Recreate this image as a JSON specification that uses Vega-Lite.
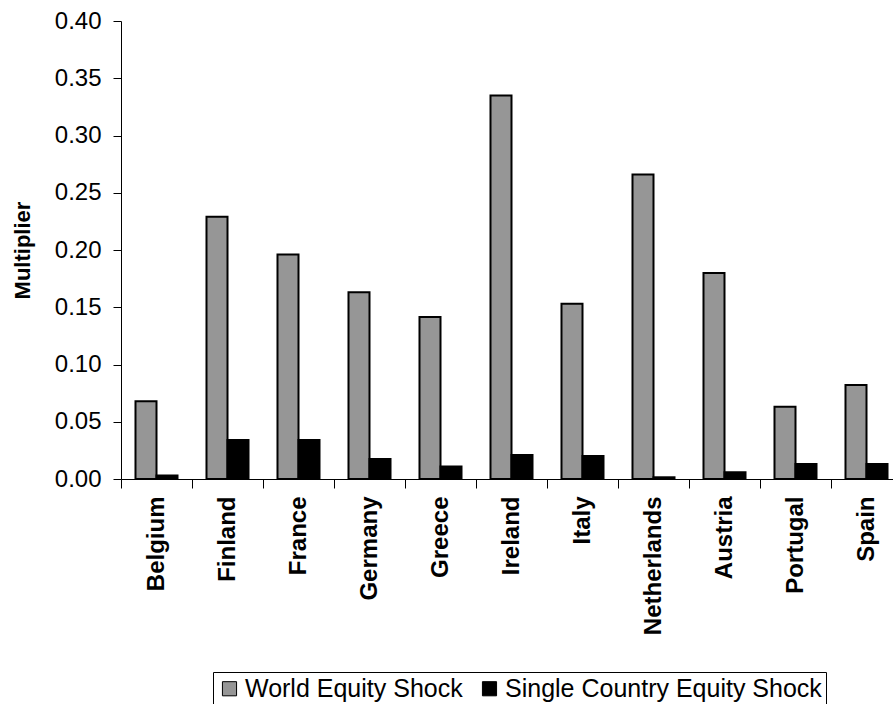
{
  "$schema": "https://vega.github.io/schema/vega-lite/v6.json",
  "width": 772,
  "height": 458,
  "autosize": {"type": "none"},
  "padding": {"left": 121, "top": 21, "right": 0, "bottom": 225},
  "background": "white",
  "config": {
    "view": {"stroke": null},
    "font": "Liberation Sans",
    "axis": {"domainColor": "black", "tickColor": "black", "labelColor": "black", "titleColor": "black", "grid": false, "domainWidth": 1, "tickWidth": 1}
  },
  "data": {
    "values": [
      {"country": "Belgium", "series": "World Equity Shock", "value": 0.068},
      {"country": "Belgium", "series": "Single Country Equity Shock", "value": 0.003},
      {"country": "Finland", "series": "World Equity Shock", "value": 0.229},
      {"country": "Finland", "series": "Single Country Equity Shock", "value": 0.034},
      {"country": "France", "series": "World Equity Shock", "value": 0.196},
      {"country": "France", "series": "Single Country Equity Shock", "value": 0.034},
      {"country": "Germany", "series": "World Equity Shock", "value": 0.163},
      {"country": "Germany", "series": "Single Country Equity Shock", "value": 0.0175},
      {"country": "Greece", "series": "World Equity Shock", "value": 0.1415},
      {"country": "Greece", "series": "Single Country Equity Shock", "value": 0.011},
      {"country": "Ireland", "series": "World Equity Shock", "value": 0.335},
      {"country": "Ireland", "series": "Single Country Equity Shock", "value": 0.021},
      {"country": "Italy", "series": "World Equity Shock", "value": 0.153},
      {"country": "Italy", "series": "Single Country Equity Shock", "value": 0.02},
      {"country": "Netherlands", "series": "World Equity Shock", "value": 0.266},
      {"country": "Netherlands", "series": "Single Country Equity Shock", "value": 0.0015},
      {"country": "Austria", "series": "World Equity Shock", "value": 0.18},
      {"country": "Austria", "series": "Single Country Equity Shock", "value": 0.006},
      {"country": "Portugal", "series": "World Equity Shock", "value": 0.063},
      {"country": "Portugal", "series": "Single Country Equity Shock", "value": 0.013},
      {"country": "Spain", "series": "World Equity Shock", "value": 0.082},
      {"country": "Spain", "series": "Single Country Equity Shock", "value": 0.013}
    ]
  },
  "mark": {"type": "bar", "stroke": "black", "strokeWidth": 2},
  "encoding": {
    "x": {
      "field": "country",
      "type": "nominal",
      "sort": null,
      "scale": {"range": [0, 781], "paddingInner": 0, "paddingOuter": 0},
      "axis": {
        "title": null,
        "labelAngle": -90,
        "labelFontSize": 24,
        "labelFontWeight": "bold",
        "tickBand": "extent",
        "tickSize": 9,
        "labelPadding": 8
      }
    },
    "xOffset": {
      "field": "series",
      "type": "nominal",
      "sort": ["World Equity Shock", "Single Country Equity Shock"],
      "scale": {"paddingInner": 0, "paddingOuter": 0.69}
    },
    "y": {
      "field": "value",
      "type": "quantitative",
      "scale": {"domain": [0, 0.4]},
      "axis": {
        "title": "Multiplier",
        "values": [0, 0.05, 0.1, 0.15, 0.2, 0.25, 0.3, 0.35, 0.4],
        "format": ".2f",
        "labelFontSize": 24,
        "tickSize": 8,
        "labelPadding": 12,
        "titleFontSize": 22,
        "titleFontWeight": "bold",
        "titlePadding": 20
      }
    },
    "color": {
      "field": "series",
      "type": "nominal",
      "scale": {"domain": ["World Equity Shock", "Single Country Equity Shock"], "range": ["#969696", "#000000"]},
      "legend": {
        "title": null,
        "orient": "none",
        "legendX": 92,
        "legendY": 651,
        "direction": "horizontal",
        "strokeColor": "black",
        "fillColor": "white",
        "padding": 4,
        "labelFontSize": 25,
        "labelColor": "black",
        "labelLimit": 600,
        "symbolType": "square",
        "symbolSize": 200,
        "symbolStrokeColor": "black",
        "symbolStrokeWidth": 1,
        "symbolOpacity": 1,
        "columnPadding": 14,
        "labelOffset": 3
      }
    }
  }
}
